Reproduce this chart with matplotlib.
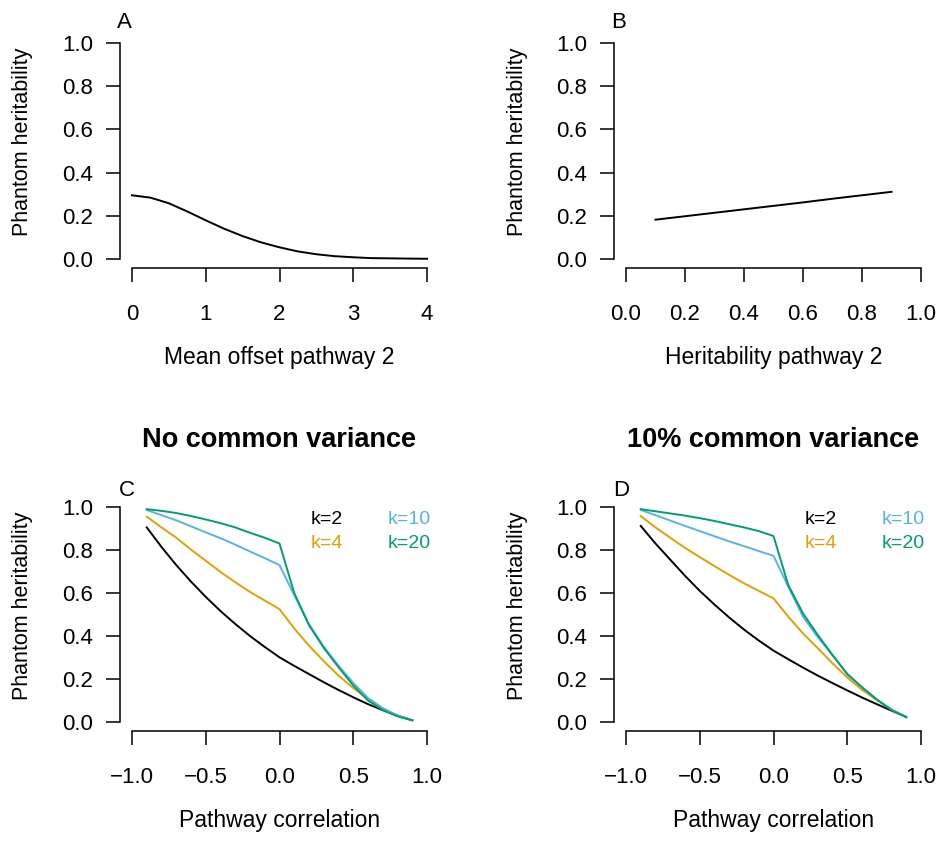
import matplotlib
matplotlib.use('Agg')
import matplotlib.pyplot as plt

# Figure size in pixels
W, H = 936, 843

# Panel A: phantom heritability vs mean offset of pathway 2
offset = [0.0, 0.25, 0.5, 0.75, 1.0, 1.25, 1.5, 1.75, 2.0,
          2.25, 2.5, 2.75, 3.0, 3.25, 3.5, 3.75, 4.0]
phantom_offset = [0.295, 0.284, 0.258, 0.220, 0.179, 0.140, 0.106, 0.077,
                  0.054, 0.035, 0.022, 0.013, 0.008, 0.004, 0.003, 0.002, 0.001]

# Panel B: phantom heritability vs heritability of pathway 2
h2_path2 = [0.1, 0.2, 0.3, 0.4, 0.5, 0.6, 0.7, 0.8, 0.9]
phantom_h2 = [0.182, 0.198, 0.214, 0.230, 0.246, 0.262, 0.279, 0.295, 0.311]

# Panels C and D: phantom heritability vs pathway correlation
corr = [-0.9, -0.8, -0.7, -0.6, -0.5, -0.4, -0.3, -0.2, -0.1, 0.0,
        0.1, 0.2, 0.3, 0.4, 0.5, 0.6, 0.7, 0.8, 0.9]

# C: no common variance
c_k2 = [0.905, 0.814, 0.730, 0.653, 0.582, 0.516, 0.456, 0.400, 0.349, 0.301,
        0.261, 0.223, 0.185, 0.149, 0.115, 0.083, 0.055, 0.030, 0.008]
c_k4 = [0.955, 0.905, 0.857, 0.802, 0.750, 0.698, 0.650, 0.605, 0.565, 0.525,
        0.435, 0.355, 0.283, 0.216, 0.158, 0.107, 0.064, 0.030, 0.008]
c_k10 = [0.986, 0.962, 0.938, 0.910, 0.882, 0.855, 0.825, 0.793, 0.762, 0.730,
         0.590, 0.455, 0.350, 0.262, 0.182, 0.112, 0.064, 0.030, 0.009]
c_k20 = [0.990, 0.982, 0.972, 0.958, 0.942, 0.925, 0.905, 0.880, 0.857, 0.830,
         0.600, 0.450, 0.345, 0.255, 0.170, 0.100, 0.056, 0.026, 0.008]

# D: 10% common variance
d_k2 = [0.912, 0.830, 0.755, 0.680, 0.610, 0.546, 0.486, 0.430, 0.379, 0.332,
        0.292, 0.253, 0.216, 0.181, 0.147, 0.114, 0.083, 0.053, 0.024]
d_k4 = [0.958, 0.905, 0.857, 0.810, 0.767, 0.725, 0.684, 0.645, 0.610, 0.575,
        0.490, 0.412, 0.343, 0.273, 0.207, 0.150, 0.102, 0.057, 0.022]
d_k10 = [0.986, 0.962, 0.937, 0.912, 0.888, 0.864, 0.840, 0.818, 0.795, 0.773,
         0.630, 0.490, 0.395, 0.310, 0.225, 0.160, 0.105, 0.058, 0.022]
d_k20 = [0.990, 0.980, 0.970, 0.960, 0.948, 0.935, 0.920, 0.905, 0.888, 0.865,
         0.637, 0.505, 0.405, 0.312, 0.222, 0.162, 0.105, 0.056, 0.022]

k_labels = ['k=2', 'k=4', 'k=10', 'k=20']
k_colors = ['black', '#E69F00', '#56B4E9', '#009E73']

x_ticks_a = [0, 1, 2, 3, 4]
x_ticks_b = [0.0, 0.2, 0.4, 0.6, 0.8, 1.0]
x_ticks_cd = [-1.0, -0.5, 0.0, 0.5, 1.0]
y_ticks = [0.0, 0.2, 0.4, 0.6, 0.8, 1.0]

plt.rcParams['font.family'] = ['Liberation Sans', 'DejaVu Sans']


def fmt(v):
    '''One decimal, with a real minus sign like R'''
    return ('%.1f' % v).replace('-', '\u2212')


def make_axes(fig, xpx, ypx, xlim, ylim):
    '''Axes placed so that xlim/ylim ends land on the given pixels (R style 4% pad)'''
    pad = 0.04
    dx = (xpx[1] - xpx[0]) * pad
    dy = (ypx[0] - ypx[1]) * pad
    left, right = xpx[0] - dx, xpx[1] + dx
    bottom, top = ypx[0] + dy, ypx[1] - dy
    ax = fig.add_axes([left / W, 1 - bottom / H, (right - left) / W, (bottom - top) / H])
    xr = xlim[1] - xlim[0]
    yr = ylim[1] - ylim[0]
    ax.set_xlim(xlim[0] - pad * xr, xlim[1] + pad * xr)
    ax.set_ylim(ylim[0] - pad * yr, ylim[1] + pad * yr)
    return ax


def style_axes(ax, xticks, xlabels):
    '''R base graphics look: no box, axis lines only over the tick range'''
    ax.spines['top'].set_visible(False)
    ax.spines['right'].set_visible(False)
    ax.spines['left'].set_bounds(0, 1)
    ax.spines['bottom'].set_bounds(xticks[0], xticks[-1])
    for s in ('left', 'bottom'):
        ax.spines[s].set_linewidth(1.1)
    ax.set_xticks(xticks)
    ax.set_xticklabels(xlabels)
    ax.set_yticks(y_ticks)
    ax.set_yticklabels([fmt(v) for v in y_ticks])
    ax.tick_params(direction='out', length=10, width=1.1, labelsize=16)
    ax.tick_params(axis='x', pad=16.5)
    ax.tick_params(axis='y', pad=9.5)


def fig_text(fig, x, y, s, **kw):
    '''Text placed in figure pixel coordinates (origin top-left)'''
    fig.text(x / W, 1 - y / H, s, **kw)


def main():
    fig = plt.figure(figsize=(W / 100, H / 100), dpi=100)

    # Panel A
    ax_a = make_axes(fig, (132, 427), (259, 43), (0, 4), (0, 1))
    ax_a.plot(offset, phantom_offset, color='black', lw=1.4)
    style_axes(ax_a, x_ticks_a, [str(v) for v in x_ticks_a])

    # Panel B
    ax_b = make_axes(fig, (626, 921), (259, 43), (0, 1), (0, 1))
    ax_b.plot(h2_path2, phantom_h2, color='black', lw=1.4)
    style_axes(ax_b, x_ticks_b, [fmt(v) for v in x_ticks_b])

    # Panels C and D
    cd_labels = [fmt(v) for v in x_ticks_cd]
    ax_c = make_axes(fig, (132, 427), (722, 507), (-1, 1), (0, 1))
    for ys, col in zip([c_k2, c_k4, c_k10, c_k20], k_colors):
        ax_c.plot(corr, ys, color=col, lw=1.4)
    style_axes(ax_c, x_ticks_cd, cd_labels)

    ax_d = make_axes(fig, (626, 921), (722, 507), (-1, 1), (0, 1))
    for ys, col in zip([d_k2, d_k4, d_k10, d_k20], k_colors):
        ax_d.plot(corr, ys, color=col, lw=1.4)
    style_axes(ax_d, x_ticks_cd, cd_labels)

    # Legends as two columns of coloured text
    for ax in (ax_c, ax_d):
        for i, (lab, col) in enumerate(zip(k_labels, k_colors)):
            xx = 0.21 if i < 2 else 0.735
            yy = 0.94 if i % 2 == 0 else 0.83
            ax.text(xx, yy, lab, color=col, fontsize=14, ha='left', va='center')

    # Axis labels
    for cx, cy, lab in [(279.5, 357, 'Mean offset pathway 2'),
                        (773.5, 357, 'Heritability pathway 2'),
                        (279.5, 821, 'Pathway correlation'),
                        (773.5, 821, 'Pathway correlation')]:
        fig_text(fig, cx, cy, lab, fontsize=16.5, ha='center', va='center')
    for cx, cy in [(23, 141.5), (517.5, 141.5), (23, 606), (517.5, 606)]:
        fig_text(fig, cx, cy, 'Phantom heritability', fontsize=15.5,
                 rotation=90, ha='center', va='center')

    # Titles and panel letters
    fig_text(fig, 279.5, 440, 'No common variance', fontsize=19.5,
             fontweight='bold', ha='center', va='center')
    fig_text(fig, 773.5, 440, '10% common variance', fontsize=19.5,
             fontweight='bold', ha='center', va='center')
    for cx, cy, lab in [(124, 22.5, 'A'), (619, 22.5, 'B'),
                        (127, 491, 'C'), (621, 491, 'D')]:
        fig_text(fig, cx, cy, lab, fontsize=16, ha='center', va='center')

    fig.savefig('out.png', dpi=100)


if __name__ == "__main__":
    main()
